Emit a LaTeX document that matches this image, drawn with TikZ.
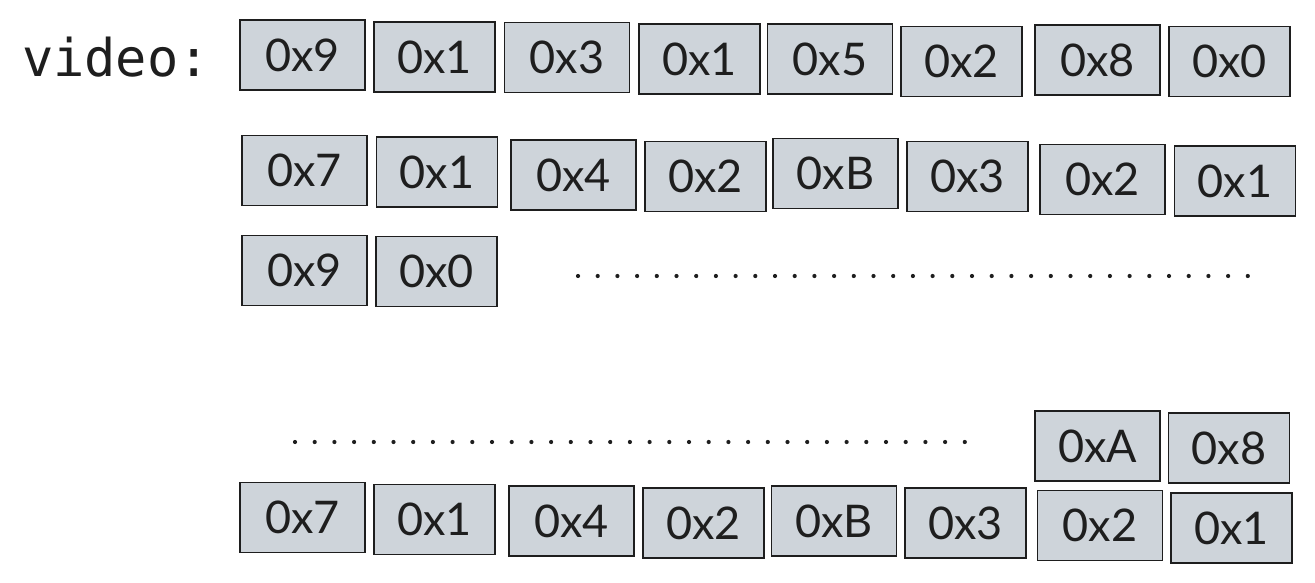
\documentclass[tikz,border=0pt]{standalone}
\usepackage{fontspec}
\setmainfont{Lato}
\newfontfamily\codefont{DejaVu Sans Mono}
\definecolor{cellfill}{HTML}{CED4DA}
\definecolor{ink}{HTML}{1E1E1E}
\tikzset{
  cell/.style={draw=ink, fill=cellfill, line width=1.8pt, minimum height=70pt,
    inner sep=0pt, font=\fontsize{45}{50}\selectfont, text=ink},
  wide/.style={cell, minimum width=125pt},
  narrow/.style={cell, minimum width=121pt},
  dotline/.style={ink, line width=4.2pt, line cap=round, dash pattern=on 0pt off 19.7pt},
  lbl/.style={inner sep=0pt, font=\codefont\fontsize{52}{56}\selectfont, text=ink}
}
\begin{document}
\begin{tikzpicture}[x=1pt,y=-1pt]
\useasboundingbox (0,0) rectangle (1315,583);
\node[lbl] (video) at (116,57) {video:};
% row 1
\node[wide]   (a1) at (302.5,55)   {0x9};
\node[narrow] (a2) at (434.5,57)   {0x1};
\node[wide]   (a3) at (567,57.5)   {0x3};
\node[narrow] (a4) at (699.5,59)   {0x1};
\node[wide]   (a5) at (830,59)     {0x5};
\node[narrow] (a6) at (961.5,61.5) {0x2};
\node[wide]   (a7) at (1097.5,60)  {0x8};
\node[narrow] (a8) at (1229.5,61.5){0x0};
% row 2
\node[wide]   (b1) at (304.5,170.5) {0x7};
\node[narrow] (b2) at (437,172)     {0x1};
\node[wide]   (b3) at (573.5,175)   {0x4};
\node[narrow] (b4) at (705.5,176.5) {0x2};
\node[wide]   (b5) at (835.5,173.5) {0xB};
\node[narrow] (b6) at (967.5,176.5) {0x3};
\node[wide]   (b7) at (1102.5,179.5){0x2};
\node[narrow] (b8) at (1235,181)    {0x1};
% row 3
\node[wide]   (c1) at (304.5,270.5) {0x9};
\node[narrow] (c2) at (436.5,271.5) {0x0};
\coordinate (s1) at (578,276);
\coordinate (t1) at (1250,276);
\draw[dotline] (s1) -- (t1);
% row 4
\coordinate (s2) at (295,442);
\coordinate (t2) at (967,442);
\draw[dotline] (s2) -- (t2);
\node[wide]   (d1) at (1097.5,446) {0xA};
\node[narrow] (d2) at (1229,448)   {0x8};
% row 5
\node[wide]   (e1) at (302.5,517.5) {0x7};
\node[narrow] (e2) at (434.5,519.5) {0x1};
\node[wide]   (e3) at (571.5,521)   {0x4};
\node[narrow] (e4) at (703.5,523)   {0x2};
\node[wide]   (e5) at (834,521)     {0xB};
\node[narrow] (e6) at (965.5,523)   {0x3};
\node[wide]   (e7) at (1100,525.5)  {0x2};
\node[narrow] (e8) at (1231.5,528)  {0x1};
\end{tikzpicture}
\end{document}
